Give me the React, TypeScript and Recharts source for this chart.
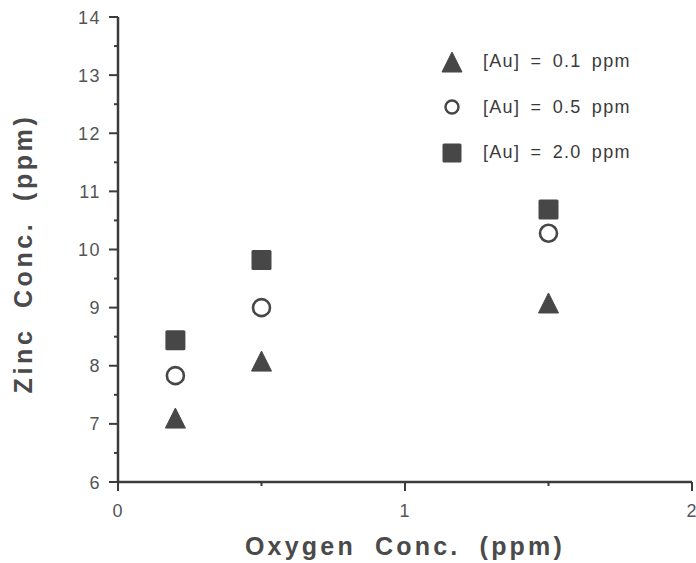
import React from 'react';
import { ScatterChart, Scatter, XAxis, YAxis, Legend, Label } from 'recharts';

const oxygen = [0.2, 0.5, 1.5];
const zincAu01 = [7.1, 8.08, 9.08];
const zincAu05 = [7.83, 9.0, 10.28];
const zincAu20 = [8.44, 9.82, 10.69];
const seriesNames = ['[Au] = 0.1 ppm', '[Au] = 0.5 ppm', '[Au] = 2.0 ppm'];
const seriesShapes = ['triangle', 'circle', 'square'];
const xTicks = [0, 0.5, 1, 1.5, 2];
const yTicks = [6, 6.5, 7, 7.5, 8, 8.5, 9, 9.5, 10, 10.5, 11, 11.5, 12, 12.5, 13, 13.5, 14];

const INK = '#474747';
const AXIS = '#3c3c3c';
const FONT = '"Liberation Sans", Arial, Helvetica, sans-serif';

const toPoints = (ys: number[]) => oxygen.map((x, i) => ({ x, y: ys[i] }));
const seriesData = [toPoints(zincAu01), toPoints(zincAu05), toPoints(zincAu20)];

function Marker({ kind, cx, cy, size }: { kind: string; cx: number; cy: number; size: number }) {
  const h = size / 2;
  if (kind === 'triangle') {
    return <path d={`M${cx},${cy - h} L${cx + h},${cy + h} L${cx - h},${cy + h} Z`} fill={INK} stroke={INK} strokeWidth={1} strokeLinejoin="round" />;
  }
  if (kind === 'circle') {
    return <circle cx={cx} cy={cy} r={h - 1.5} fill="#fff" stroke={INK} strokeWidth={2.6} />;
  }
  return <rect x={cx - h} y={cy - h} width={size} height={size} rx={1.5} fill={INK} />;
}

const makeShape = (kind: string) => (props: any) => <Marker kind={kind} cx={props.cx} cy={props.cy} size={20} />;

const XTick = (props: any) => {
  const { x, y, payload } = props;
  const major = Number.isInteger(payload.value);
  return (
    <g>
      <line x1={x} x2={x} y1={y} y2={y + (major ? 9 : 4)} stroke={AXIS} strokeWidth={2} />
      {major && (
        <text x={x} y={y + 35} textAnchor="middle" fontSize={18} fill="#555" fontFamily={FONT} letterSpacing={1}>
          {payload.value}
        </text>
      )}
    </g>
  );
};

const YTick = (props: any) => {
  const { x, y, payload } = props;
  const major = Number.isInteger(payload.value);
  return (
    <g>
      <line x1={x} x2={x - (major ? 9 : 4)} y1={y} y2={y} stroke={AXIS} strokeWidth={2} />
      {major && (
        <text x={x - 17} y={y} dy={6.5} textAnchor="end" fontSize={18} fill="#555" fontFamily={FONT} letterSpacing={1.5}>
          {payload.value}
        </text>
      )}
    </g>
  );
};

const XLabel = (props: any) => {
  const vb = props.viewBox;
  return (
    <text x={vb.x + vb.width / 2} y={vb.y + 73} textAnchor="middle" fontSize={25} fontWeight="bold" fill="#4a4a4a" fontFamily={FONT} letterSpacing={3.2} wordSpacing={9}>
      Oxygen Conc. (ppm)
    </text>
  );
};

const YLabel = (props: any) => {
  const vb = props.viewBox;
  const cx = 32;
  const cy = vb.y + vb.height / 2 + 4;
  return (
    <text x={cx} y={cy} transform={`rotate(-90, ${cx}, ${cy})`} textAnchor="middle" fontSize={25} fontWeight="bold" fill="#4a4a4a" fontFamily={FONT} letterSpacing={3.6} wordSpacing={9}>
      Zinc Conc. (ppm)
    </text>
  );
};

const LegendContent = (props: any) => {
  const payload = props.payload || [];
  return (
    <div style={{ display: 'flex', flexDirection: 'column' }}>
      {payload.map((entry: any, i: number) => {
        const idx = seriesNames.indexOf(entry.value);
        const kind = seriesShapes[idx >= 0 ? idx : i];
        return (
          <div key={i} style={{ display: 'flex', alignItems: 'center', height: 45.5 }}>
            <svg width={24} height={24} style={{ display: 'block' }}>
              {kind === 'circle' ? (
                <circle cx={12} cy={12} r={6.5} fill="#fff" stroke={INK} strokeWidth={2.4} />
              ) : (
                <Marker kind={kind} cx={12} cy={12} size={kind === 'square' ? 19 : 20} />
              )}
            </svg>
            <span style={{ marginLeft: 19, fontFamily: FONT, fontSize: 18, color: '#3a3a3a', letterSpacing: 1.3, wordSpacing: 4, whiteSpace: 'nowrap' }}>
              {entry.value}
            </span>
          </div>
        );
      })}
    </div>
  );
};

export default function App() {
  return (
    <div style={{ position: 'absolute', left: 0, top: 0, background: '#fff' }}>
      <ScatterChart width={696} height={563} margin={{ top: 17, right: 4, bottom: 0, left: 0 }}>
        <XAxis
          type="number"
          dataKey="x"
          xAxisId={0}
          domain={[0, 2]}
          ticks={xTicks}
          interval={0}
          height={81}
          tickSize={0}
          tickMargin={0}
          tickLine={false}
          axisLine={{ stroke: AXIS, strokeWidth: 2.5 }}
          tick={<XTick />}
        >
          <Label content={<XLabel />} />
        </XAxis>
        <XAxis
          type="number"
          xAxisId="top"
          orientation="top"
          domain={[0, 2]}
          height={0}
          tick={false}
          tickLine={false}
          axisLine={{ stroke: AXIS, strokeWidth: 2.5 }}
        />
        <YAxis
          type="number"
          dataKey="y"
          yAxisId={0}
          domain={[6, 14]}
          ticks={yTicks}
          interval={0}
          width={118}
          tickSize={0}
          tickMargin={0}
          tickLine={false}
          axisLine={{ stroke: AXIS, strokeWidth: 2.5 }}
          tick={<YTick />}
        >
          <Label content={<YLabel />} />
        </YAxis>
        <YAxis
          type="number"
          yAxisId="right"
          orientation="right"
          domain={[6, 14]}
          width={0}
          tick={false}
          tickLine={false}
          axisLine={{ stroke: AXIS, strokeWidth: 2.5 }}
        />
        <Legend
          layout="vertical"
          align="center"
          verticalAlign="middle"
          content={<LegendContent />}
          wrapperStyle={{ position: 'absolute', top: 39, left: 440, width: 'auto', height: 'auto' }}
        />
        {seriesData.map((d, i) => (
          <Scatter
            key={seriesNames[i]}
            name={seriesNames[i]}
            data={d}
            xAxisId={0}
            yAxisId={0}
            fill={INK}
            shape={makeShape(seriesShapes[i])}
            isAnimationActive={false}
          />
        ))}
      </ScatterChart>
    </div>
  );
}
